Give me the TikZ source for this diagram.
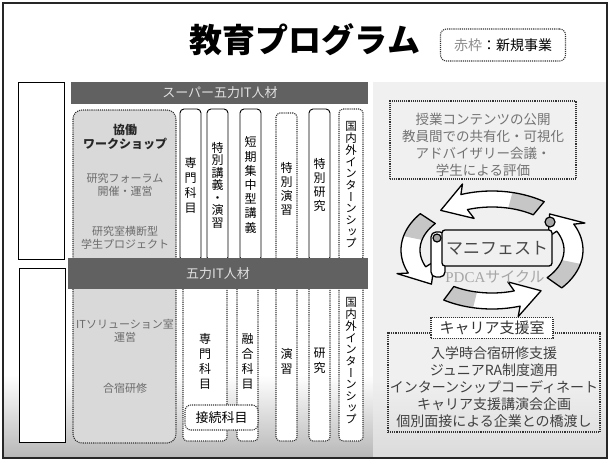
\documentclass[tikz,border=0pt]{standalone}
\usepackage{fontspec}
\newfontfamily\jp{Noto Sans CJK JP}
\newfontfamily\jpv[RawFeature=+vert]{Noto Sans CJK JP}
\newfontfamily\serif{Liberation Serif}
\newcommand\jfs[2]{\fontsize{#1}{#2}\selectfont}
% outline of one ribbon arrow of the PDCA ring: #1 start angle, #2 end angle
\newcommand\ringpath[2]{%
    plot[domain=#1:#2, samples=25] ({492+91*cos(\x)},{250-59*sin(\x)})
    -- ({492+101*cos(#2-3)},{250-69*sin(#2-3)})
    -- ({492+81.5*cos(#2+19)},{250-51*sin(#2+19)})
    -- ({492+61*cos(#2-3)},{250-33*sin(#2-3)})
    -- plot[domain=#2:#1, samples=25] ({492+72*cos(\x)},{250-43*sin(\x)})
    -- cycle}
\newcommand\cycarrow[2]{%
  \fill[white] \ringpath{#1}{#2};
  \fill[gray!45]
    plot[domain=#1:(#1+0.4*(#2-#1)), samples=12] ({492+91*cos(\x)},{250-59*sin(\x)})
    -- plot[domain=(#1+0.4*(#2-#1)):#1, samples=12] ({492+72*cos(\x)},{250-43*sin(\x)})
    -- cycle;
  \draw[line width=1.3pt, line join=round] \ringpath{#1}{#2};}
\tikzset{
  solidcol/.style={draw=black, line width=0.9pt, fill=white, rounded corners=4pt,
    inner sep=0pt, font=\jpv\jfs{12}{15}, align=center},
  newcol/.style={draw=black!80, line width=1.1pt, densely dotted, fill=white,
    rounded corners=4pt, inner sep=0pt, font=\jpv\jfs{12}{15}, align=center},
  newframe/.style={draw=black!80, line width=1.1pt, densely dotted},
  barfill/.style={fill=black!62},
  bartext/.style={text=black!12, font=\jp\jfs{13}{13}},
  graytext/.style={text=black!58, font=\jp\jfs{11}{13.5}, align=center},
  darktext/.style={text=black!75, font=\jp\jfs{14}{17}, align=center},
}
\begin{document}
\begin{tikzpicture}[x=1pt,y=-1pt]
\useasboundingbox (0,0) rectangle (610,461);
\fill[white] (0,0) rectangle (610,461);
% soft shading along the lower edge
\shade[top color=white, bottom color=black!28] (4,375) rectangle (606,457);
% right-hand panel
\fill[black!8, opacity=0.7] (373,82) rectangle (606,457);
% outer frame
\draw[line width=2pt, black!85] (3,3) rectangle (607,458);

% title and legend
\node[font=\jp\bfseries\jfs{33}{33}] (title) at (305,40) {教育プログラム};
\node[newframe, rounded corners=6pt, minimum width=125pt, minimum height=32pt,
  font=\jp\jfs{14}{14}] (legend) at (503,45) {{\color{black!45}赤枠}：新規事業};

% left-hand empty boxes
\draw[line width=1pt, fill=white] (18,82) rectangle (64,259);
\draw[line width=1pt, fill=white] (19,268) rectangle (65,442);

% collaborative workshop column
\draw[newframe, fill=black!15, rounded corners=9pt] (73,110) rectangle (176,443);
\node[font=\jp\bfseries\jfs{12}{14}, text=black!85, align=center] (kyodo) at (125,137)
  {協働\\ワークショップ};
\node[graytext] (forum) at (125,185) {研究フォーラム\\開催・運営};
\node[graytext] (proj) at (125,238) {研究室横断型\\学生プロジェクト};
\node[graytext] (itsol) at (125,331) {ITソリューション室\\運営};
\node[graytext] (gasshuku) at (125,388) {合宿研修};

% upper course columns
\node[solidcol, minimum width=21pt, minimum height=152pt] (senmonA) at (190.5,185) {専\\門\\科\\目};
\node[solidcol, minimum width=21pt, minimum height=152pt, font=\jpv\jfs{12}{12.5}] (tokubetsuA) at (217.5,185) {特\\別\\講\\義\\・\\演\\習};
\node[solidcol, minimum width=21pt, minimum height=152pt, font=\jpv\jfs{12}{14.2}] (tanki) at (250.5,185) {短\\期\\集\\中\\型\\講\\義};
\node[newcol, minimum width=21pt, minimum height=152pt, font=\jpv\jfs{12}{14.2}] (tokuen) at (286.5,189) {特\\別\\演\\習};
\node[solidcol, minimum width=21pt, minimum height=152pt, font=\jpv\jfs{12}{14.2}] (tokken) at (319.5,185) {特\\別\\研\\究};
\node[newcol, minimum width=24pt, minimum height=152pt, font=\jpv\jfs{11.5}{11.7}] (internA) at (351,185) {国\\内\\外\\イ\\ン\\タ\\ー\\ン\\シ\\ッ\\プ};

% lower course columns
\node[newcol, minimum width=44pt, minimum height=160pt] (senmonB) at (205,361) {専\\門\\科\\目};
\node[newcol, minimum width=21pt, minimum height=160pt] (yugo) at (247.5,361) {融\\合\\科\\目};
\node[newcol, minimum width=21pt, minimum height=160pt] (enshu) at (286.5,361) {演\\習};
\node[newcol, minimum width=21pt, minimum height=160pt] (kenkyu) at (319.5,361) {研\\究};
\node[newcol, minimum width=24pt, minimum height=160pt, font=\jpv\jfs{11.5}{11.7}] (internB) at (351,361) {国\\内\\外\\イ\\ン\\タ\\ー\\ン\\シ\\ッ\\プ};
\node[newcol, rounded corners=6pt, minimum width=73pt, minimum height=25pt,
  font=\jp\jfs{13}{13}] (setsuzoku) at (221.5,417.5) {接続科目};

% level bars
\fill[barfill] (71,82) rectangle (368,104);
\node[bartext] (super) at (220,93) {スーパー五力IT人材};
\fill[barfill] (68,258) rectangle (368,289);
\node[bartext] (goriki) at (218,273.5) {五力IT人材};

% course review box
\node[newframe, minimum width=186pt, minimum height=78pt] (review) at (483,140) {};
\node[text=black!55, font=\jp\jfs{13.5}{16.8}, align=center] (reviewtext) at (483,145)
  {授業コンテンツの公開\\教員間での共有化・可視化\\アドバイザリー会議・\\学生による評価};

% PDCA ring
\cycarrow{-40}{26}
\cycarrow{55}{110}
\cycarrow{142}{203}
\cycarrow{238}{288}

% manifesto scroll
\draw[line width=1.3pt, fill=white, rounded corners=5pt] (431,232) rectangle (445,277);
\node[draw, line width=1.3pt, fill=black!6, rounded corners=3pt, minimum width=110pt,
  minimum height=36pt, text=black!72, font=\jp\jfs{17}{17}] (manifest) at (497,248) {マニフェスト};
\draw[line width=1.2pt, fill=black!35] (437,238) circle (4pt);
\draw[line width=1.2pt, fill=black!35] (550,222) circle (5pt);
\node[text=black!35, font=\jp\jfs{15}{15}] (pdca) at (495,277) {{\serif PDCA}サイクル};

% career support office
\node[newframe, minimum width=212pt, minimum height=99pt] (careerbox) at (494,382.5) {};
\node[darktext] (careertext) at (494,387)
  {入学時合宿研修支援\\ジュニアRA制度適用\\インターンシップコーディネート\\キャリア支援講演会企画\\個別面接による企業との橋渡し};
\node[newframe, fill=white, minimum width=122pt, minimum height=20pt,
  font=\jp\jfs{15}{15}, text=black!80] (career) at (492,328) {キャリア支援室};
\end{tikzpicture}
\end{document}
